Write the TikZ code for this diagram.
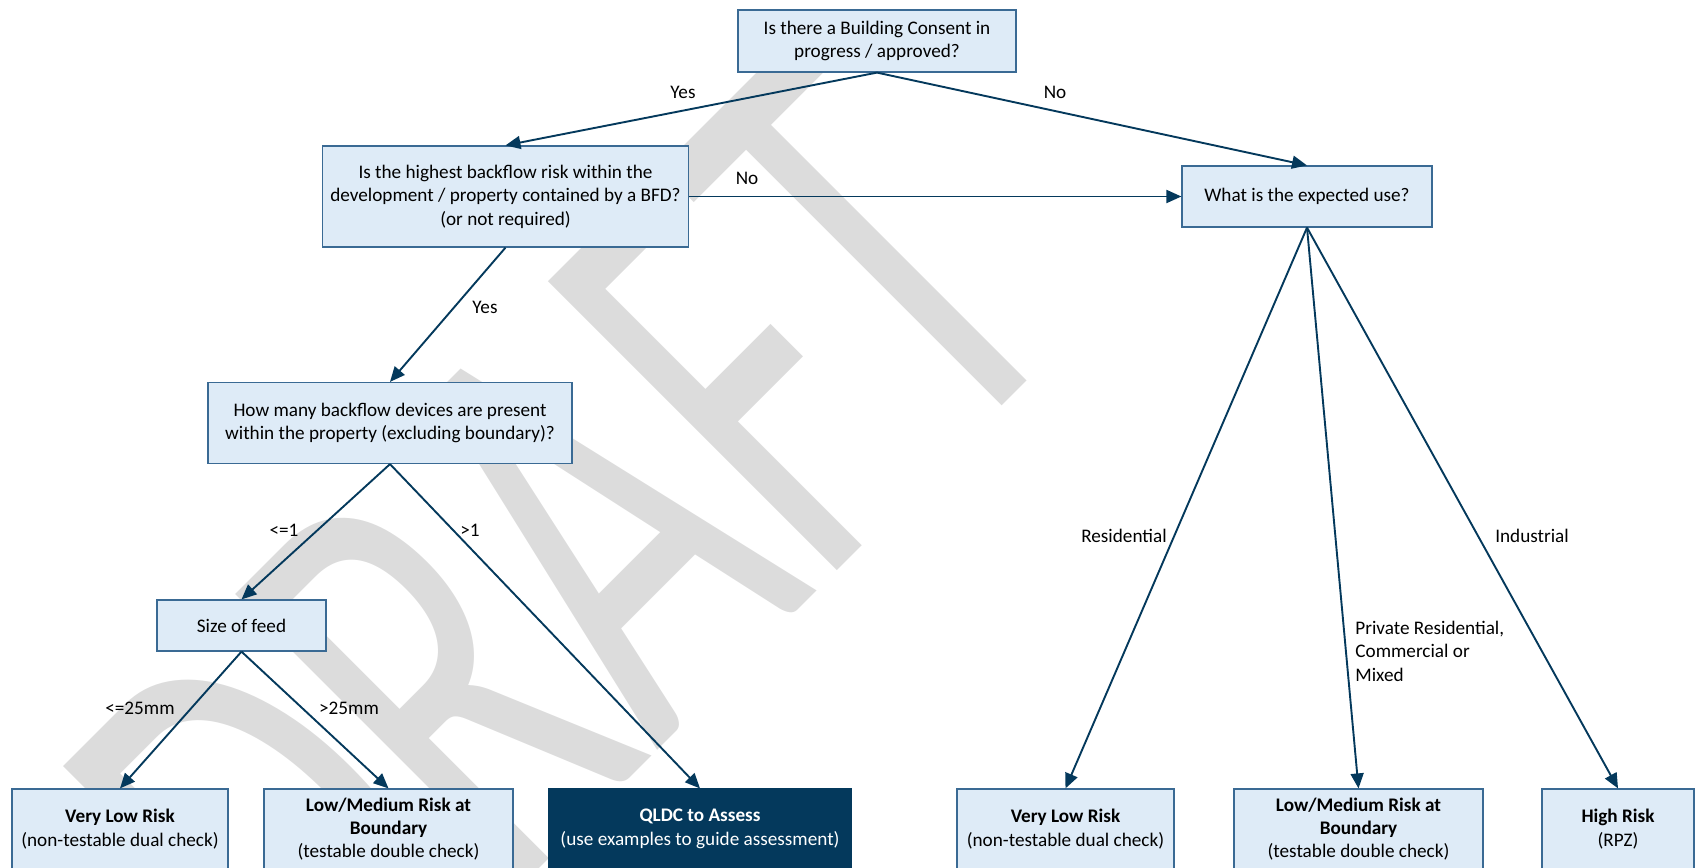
\documentclass[tikz,border=0pt]{standalone}
\usepackage{fontspec}
\setmainfont{Carlito}
\usetikzlibrary{arrows.meta}
\definecolor{boxfill}{HTML}{DEEBF7}
\definecolor{boxline}{HTML}{3A6A94}
\definecolor{navy}{HTML}{04395C}
\definecolor{wmgray}{HTML}{DCDCDC}

\begin{document}
\begin{tikzpicture}[x=0.5pt,y=-0.5pt]
			\tikzstyle{qbox}=[rectangle,draw=boxline,fill=boxfill,line width=0.6pt,inner sep=0pt,align=center,font=\fontsize{9.6}{11.7}\selectfont]
			\tikzstyle{dark}=[qbox,draw=navy,fill=navy,text=white]
			\tikzstyle{lbl}=[inner sep=0pt,font=\fontsize{9.6}{11.7}\selectfont]
			\tikzstyle{link}=[draw=navy,line width=0.95pt,-{Triangle[length=7.5pt,width=6.5pt]}]
			\tikzstyle{wmark}=[inner sep=0pt,anchor=base west,text=wmgray,rotate=45,xscale=0.62,font=\fontsize{318.5}{318.5}\selectfont]

			\useasboundingbox (0,0) rectangle (1695,867);
			\node[wmark] (draft) at (333,1075) {DRAFT};

			\node[qbox,minimum width=139pt,minimum height=31pt] (consent) at (877,41) {Is there a Building Consent in\\progress / approved?};
			\node[qbox,minimum width=183pt,minimum height=50.5pt] (bfd) at (505.5,196.5) {Is the highest backflow risk within the\\development / property contained by a BFD?\\(or not required)};
			\node[qbox,minimum width=125pt,minimum height=30.5pt] (use) at (1307,196.5) {What is the expected use?};
			\node[qbox,minimum width=182pt,minimum height=40.5pt] (devices) at (390,423) {How many backflow devices are present\\within the property (excluding boundary)?};
			\node[qbox,minimum width=84.5pt,minimum height=25.5pt] (feed) at (241.5,625.5) {Size of feed};

			\node[qbox,minimum width=108pt,minimum height=40pt] (vlowL) at (120,829) {\textbf{Very Low Risk}\\(non-testable dual check)};
			\node[qbox,minimum width=124.5pt,minimum height=40pt] (lmedL) at (388.5,829) {\textbf{Low/Medium Risk at}\\\textbf{Boundary}\\(testable double check)};
			\node[dark,minimum width=151pt,minimum height=40pt] (qldc) at (700,829) {\textbf{QLDC to Assess}\\(use examples to guide assessment)};
			\node[qbox,minimum width=108.5pt,minimum height=40pt] (vlowR) at (1065.5,829) {\textbf{Very Low Risk}\\(non-testable dual check)};
			\node[qbox,minimum width=124.5pt,minimum height=40pt] (lmedR) at (1358.5,829) {\textbf{Low/Medium Risk at}\\\textbf{Boundary}\\(testable double check)};
			\node[qbox,minimum width=76pt,minimum height=40pt] (high) at (1618,829) {\textbf{High Risk}\\(RPZ)};

			\draw[link] (consent.south) -- (bfd.north);
			\draw[link] (consent.south) -- (use.north);
			\draw[link] (bfd.east) -- (use.west);
			\draw[link] (bfd.south) -- (devices.north);
			\draw[link] (devices.south) -- (feed.north);
			\draw[link] (devices.south) -- (qldc.north);
			\draw[link] (feed.south) -- (vlowL.north);
			\draw[link] (feed.south) -- (lmedL.north);
			\draw[link] (use.south) -- (vlowR.north);
			\draw[link] (use.south) -- (lmedR.north);
			\draw[link] (use.south) -- (high.north);

			\node[lbl] (yes1) at (683,92) {Yes};
			\node[lbl] (no1) at (1055,92) {No};
			\node[lbl] (no2) at (747,178) {No};
			\node[lbl] (yes2) at (485,307) {Yes};
			\node[lbl] (few) at (284,530) {<=1};
			\node[lbl] (many) at (470,530) {>1};
			\node[lbl] (small) at (140,708) {<=25mm};
			\node[lbl] (large) at (349,708) {>25mm};
			\node[lbl] (resi) at (1124,536) {Residential};
			\node[lbl,align=left,anchor=west] (mixed) at (1355,651) {Private Residential,\\Commercial or\\Mixed};
			\node[lbl] (indu) at (1532,536) {Industrial};
			\end{tikzpicture}
\end{document}
